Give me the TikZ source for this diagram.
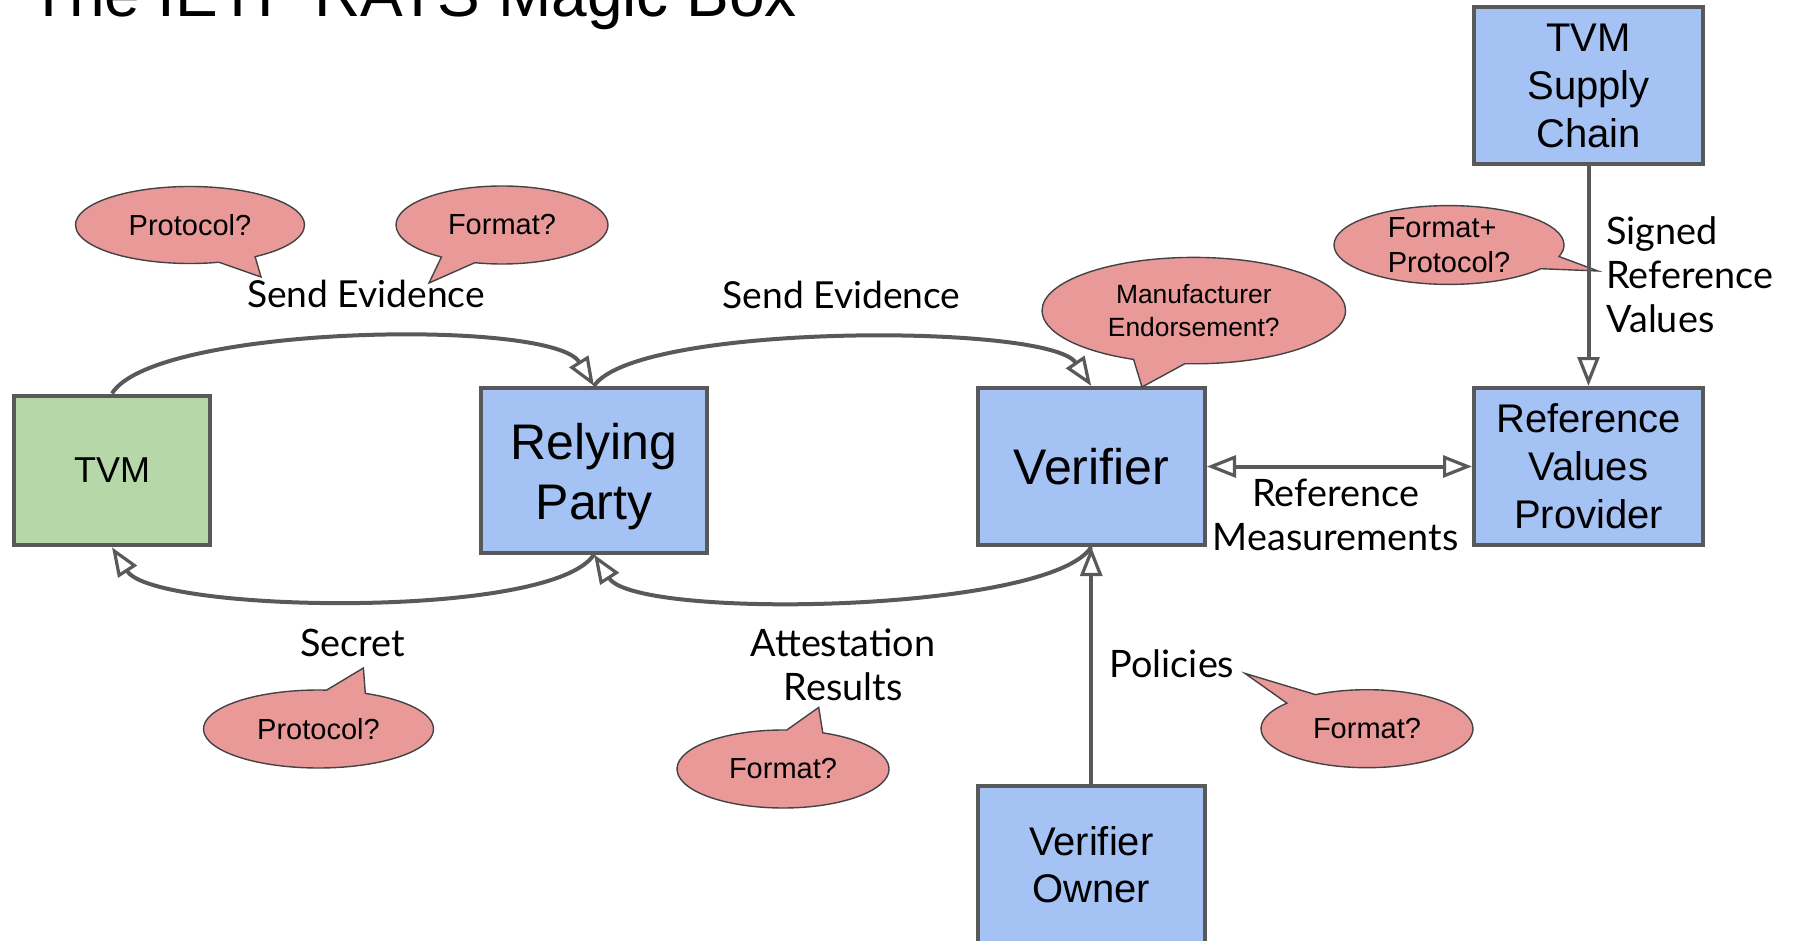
\documentclass[tikz,border=0pt]{standalone}
\usepackage{fontspec}
\setmainfont{Liberation Sans}
\newfontfamily\latofont{Lato}
\usetikzlibrary{arrows.meta,shapes.callouts,calc}
\definecolor{boxblue}{HTML}{A4C2F4}
\definecolor{boxgreen}{HTML}{B6D7A8}
\definecolor{bubred}{HTML}{EA9999}
\definecolor{linegray}{HTML}{595959}
\definecolor{bubedge}{HTML}{434343}
\begin{document}
\begin{tikzpicture}[x=0.5pt,y=-0.5pt,
  box/.style={draw=linegray, line width=2pt, fill=boxblue, align=center, inner sep=0pt},
  conn/.style={draw=linegray, line width=2pt},
  arr/.style={-{Triangle[length=14.5pt,width=11pt,line width=1.6pt,fill=white]}},
  dblarr/.style={{Triangle[length=14.5pt,width=11pt,line width=1.6pt,fill=white]}-{Triangle[length=14.5pt,width=11pt,line width=1.6pt,fill=white]}},
  bubble/.style={ellipse callout, draw=bubedge, line width=0.7pt, fill=bubred, inner sep=0pt,
     callout pointer arc=20, font=\fontsize{14.5}{17.75}\selectfont, align=center},
  lbl/.style={font=\latofont\fontsize{18.9}{22}\selectfont, inner sep=0pt}
]
\useasboundingbox (0,0) rectangle (1794,941);

% title
\node[anchor=base west, inner sep=0pt, font=\fontsize{32}{38}\selectfont] (title) at (29.5,17) {The IETF RATS Magic Box};

% boxes
\node[box, fill=boxgreen, minimum width=98.25pt, minimum height=74.9pt, font=\fontsize{18}{21.6}\selectfont] (tvm) at (112,470.4) {TVM};
\node[box, minimum width=113.25pt, minimum height=82.25pt, font=\fontsize{25}{29.75}\selectfont] (rp) at (594,470.25) {\rule{0pt}{24.5pt}Relying\\Party};
\node[box, minimum width=113.75pt, minimum height=78.5pt, font=\fontsize{25}{30}\selectfont] (ver) at (1091.25,466.5) {Verifier};
\node[box, minimum width=114.5pt, minimum height=78.5pt, font=\fontsize{20}{24}\selectfont] (rvp) at (1588.5,466.5) {Reference\\Values\\Provider};
\node[box, minimum width=114.5pt, minimum height=78.5pt, font=\fontsize{20}{24}\selectfont] (sc) at (1588.5,85.5) {TVM\\Supply\\Chain};
\node[box, minimum width=113.75pt, minimum height=78.5pt, font=\fontsize{20}{23.5}\selectfont] (vo) at (1091.25,864.5) {Verifier\\Owner};

% bubbles
\node[bubble, minimum width=114.5pt, minimum height=38.5pt, callout absolute pointer={(261,277)}] (b1) at (190,225) {Protocol?};
\node[bubble, minimum width=106pt, minimum height=39pt, callout absolute pointer={(429,283)}] (b2) at (502,225) {Format?};
\node[bubble, minimum width=151.75pt, minimum height=53.2pt, font=\fontsize{13.2}{16.5}\selectfont, callout absolute pointer={(1142,387)}] (b3) at (1193.8,310.6) {Manufacturer\\Endorsement?};
\node[bubble, minimum width=115pt, minimum height=39pt, align=left, callout absolute pointer={(1598,271)}] (b4) at (1449,245) {Format+\\Protocol?};
\node[bubble, minimum width=115pt, minimum height=39pt, callout absolute pointer={(363.4,668)}] (b5) at (318.5,729) {Protocol?};
\node[bubble, minimum width=106pt, minimum height=39pt, callout absolute pointer={(818.7,707.4)}] (b6) at (783,769) {Format?};
\node[bubble, minimum width=106pt, minimum height=39pt, callout absolute pointer={(1245,673.4)}] (b7) at (1367,728.7) {Format?};

% connectors
\draw[conn, arr] (tvm.north) .. controls (154,325) and (552,318) .. (rp.north);
\draw[conn, arr] (rp.north) .. controls (636,323) and (1049,323) .. (ver.north);
\draw[conn, arr] (rp.south) .. controls (552,620) and (154,613) .. (tvm.south);
\draw[conn, arr] (ver.south) .. controls (1049,613) and (636,620) .. (rp.south);
\draw[conn, arr] (vo.north) -- (ver.south);
\draw[conn, dblarr] (ver.east) -- (rvp.west);
\draw[conn, arr] (sc.south) -- (rvp.north);

% labels
\node[lbl, anchor=base, font=\latofont\fontsize{18.6}{22}\selectfont] (l1) at (366,307) {Send Evidence};
\node[lbl, anchor=base, font=\latofont\fontsize{18.6}{22}\selectfont] (l2) at (841.5,308) {Send Evidence};
\node[lbl, anchor=base] (l3) at (352.5,656) {Secret};
\node[lbl, align=center] (l4) at (843,664.5) {Attestation\\Results};
\node[lbl, anchor=base] (l5) at (1172,677) {Policies};
\node[lbl, align=center] (l6) at (1335.7,515) {Reference\\Measurements};
\node[lbl, align=left, anchor=west] (l7) at (1606,275) {Signed\\Reference\\Values};
\end{tikzpicture}
\end{document}
